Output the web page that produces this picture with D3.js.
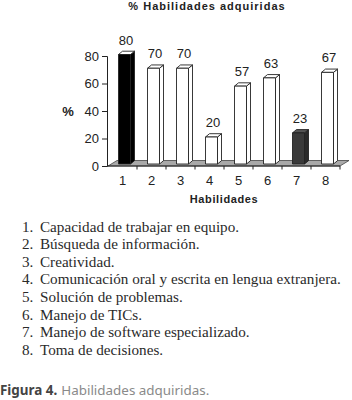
<!DOCTYPE html>
<html><head><meta charset="utf-8">
<script src="https://cdn.jsdelivr.net/npm/d3@7"></script>
<style>
html,body{margin:0;padding:0;background:#fff;}
svg{display:block;}
</style></head>
<body>
<svg id="chart" width="352" height="400"></svg>
<script>
const title = "% Habilidades adquiridas";
const categories = ["1","2","3","4","5","6","7","8"];
const values = [80,70,70,20,57,63,23,67];
const barFills = ["#000000","#ffffff","#ffffff","#ffffff","#ffffff","#ffffff","#3a3a3a","#ffffff"];
const yTicks = [0,20,40,60,80];
const yLabel = "%";
const xLabel = "Habilidades";
const legendItems = [
  "Capacidad de trabajar en equipo.",
  "Búsqueda de información.",
  "Creatividad.",
  "Comunicación oral y escrita en lengua extranjera.",
  "Solución de problemas.",
  "Manejo de TICs.",
  "Manejo de software especializado.",
  "Toma de decisiones."
];
const captionBold = "Figura 4.";
const captionText = "Habilidades adquiridas.";

const svg = d3.select("#chart");
const sans = "'Liberation Sans', Arial, sans-serif";

const x = d3.scaleBand().domain(categories).range([108, 340]).padding(0);
const y = d3.scaleLinear().domain([0, 80]).range([166, 56]);

// depth parameters
const floorDx = 9, floorDy = 5.5;
const barDx = 4, barDy = 3.3;
const offX = 2, offY = 2;
const barW = 12;

// title
svg.append("text").attr("x", 207).attr("y", 9.5).attr("text-anchor", "middle")
  .attr("font-family", sans).attr("font-weight", "bold").attr("font-size", 11)
  .attr("letter-spacing", 1).attr("fill", "#222").text(title);

// floor
const x0 = x.range()[0], x1 = x.range()[1], yb = y(0);
svg.append("path")
  .attr("d", `M${x0},${yb}L${x1},${yb}L${x1+floorDx},${yb-floorDy}L${x0+floorDx},${yb-floorDy}Z`)
  .attr("fill", "#a9a9a9").attr("stroke", "#444").attr("stroke-width", 0.8);

// bars
const bars = svg.append("g");
categories.forEach((c, i) => {
  const cx = x(c) + x.bandwidth()/2 + offX;
  const l = cx - barW/2, r = cx + barW/2;
  const top = y(values[i]) - offY + 0.5;
  const bot = yb - offY;
  const fill = barFills[i];
  const dark = fill !== "#ffffff";
  const g = bars.append("g").attr("stroke", "#222").attr("stroke-width", 0.9).attr("stroke-linejoin", "round");
  // side
  g.append("path").attr("d", `M${r},${bot}L${r+barDx},${bot-barDy}L${r+barDx},${top-barDy}L${r},${top}Z`)
    .attr("fill", fill === "#000000" ? "#000" : (dark ? "#2a2a2a" : "#fff"));
  // top
  g.append("path").attr("d", `M${l},${top}L${r},${top}L${r+barDx},${top-barDy}L${l+barDx},${top-barDy}Z`)
    .attr("fill", fill === "#000000" ? "#fff" : (dark ? "#555" : "#fff"));
  // front
  g.append("rect").attr("x", l).attr("y", top).attr("width", barW).attr("height", bot - top).attr("fill", fill);
  // value label
  svg.append("text").attr("x", cx + 1.5).attr("y", top - 10).attr("text-anchor", "middle")
    .attr("font-family", sans).attr("font-size", 13).attr("fill", "#222").text(values[i]);
});

// y axis
const yAxis = svg.append("g").attr("transform", `translate(${x0 - 1},0)`)
  .call(d3.axisLeft(y).tickValues(yTicks).tickSize(5).tickPadding(3));
yAxis.selectAll("text").attr("font-family", sans).attr("font-size", 13).attr("fill", "#222");
yAxis.selectAll("line,path").attr("stroke", "#222");

// x axis line + boundary ticks
svg.append("line").attr("x1", x0 - 1).attr("x2", x1).attr("y1", yb).attr("y2", yb).attr("stroke", "#222");
const bounds = categories.slice(1).map(c => x(c)).concat([x1]);
svg.append("g").selectAll("line").data(bounds).join("line")
  .attr("x1", d => d).attr("x2", d => d).attr("y1", yb).attr("y2", yb + 3.5).attr("stroke", "#222");
svg.append("g").selectAll("text").data(categories).join("text")
  .attr("x", d => x(d) + x.bandwidth()/2).attr("y", 184.5).attr("text-anchor", "middle")
  .attr("font-family", sans).attr("font-size", 13).attr("fill", "#222").text(d => d);

// axis titles
svg.append("text").attr("x", 68).attr("y", 115.5).attr("text-anchor", "middle")
  .attr("font-family", sans).attr("font-weight", "bold").attr("font-size", 13).attr("fill", "#222").text(yLabel);
svg.append("text").attr("x", 224).attr("y", 203).attr("text-anchor", "middle")
  .attr("font-family", sans).attr("font-weight", "bold").attr("font-size", 11)
  .attr("letter-spacing", 0.6).attr("fill", "#222").text(xLabel);

// legend list
const serif = "'Liberation Serif', 'DejaVu Serif', serif";
const list = svg.append("g");
const items = list.selectAll("g").data(legendItems).join("g")
  .attr("transform", (d, i) => `translate(0,${231.5 + i * 17.6})`);
items.append("text").attr("x", 22).attr("font-family", serif).attr("font-size", 14)
  .attr("fill", "#2a2a2a").text((d, i) => (i + 1) + ".");
const itemTexts = items.append("text").attr("x", 40).attr("font-family", serif).attr("font-size", 14)
  .attr("fill", "#2a2a2a").text(d => d);
// fit font size so the longest line ends near x=341
let maxW = 0;
itemTexts.each(function(){ maxW = Math.max(maxW, this.getComputedTextLength()); });
const fs = 14 * 301 / maxW;
items.selectAll("text").attr("font-size", fs);

// caption
const cap = svg.append("text").attr("x", 0).attr("y", 395).attr("font-family", "'Noto Sans', sans-serif").attr("font-size", 12);
cap.append("tspan").attr("font-weight", "bold").attr("fill", "#444").text(captionBold);
cap.append("tspan").attr("fill", "#8a8a8a").attr("dx", 4).text(captionText);
const cw = cap.node().getComputedTextLength();
cap.attr("font-size", 12 * 210 / (cw + 4));
</script>
</body></html>
